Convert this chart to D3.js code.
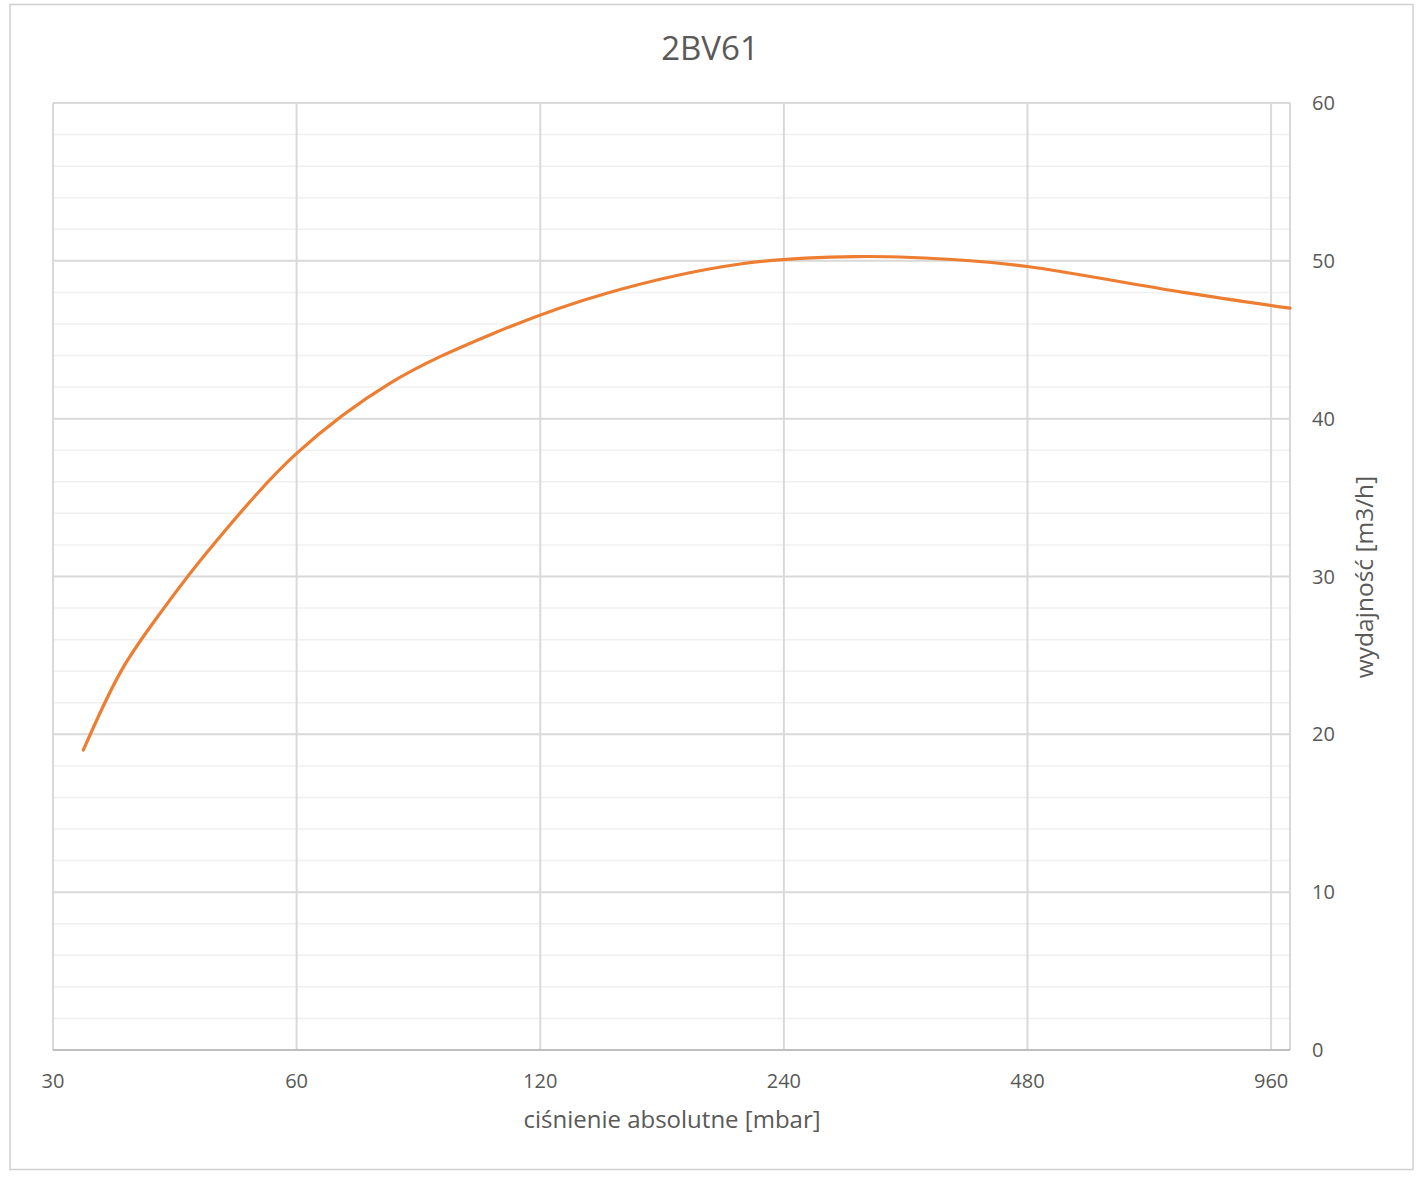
<!DOCTYPE html>
<html><head><meta charset="utf-8">
<script src="https://cdn.jsdelivr.net/npm/d3@7"></script>
<style>body{margin:0;background:#fff;font-family:"Open Sans",sans-serif;}</style>
</head><body>
<svg id="c" width="1421" height="1177"></svg>
<script>
const pressure = [32.7, 36.5, 41, 47.3, 60, 78.3, 105, 145, 212, 295, 404, 480, 748, 1013];
const capacity = [19.0, 24.1, 27.9, 32.0, 37.8, 42.25, 45.4, 47.95, 49.8, 50.27, 50.02, 49.64, 48.0, 47.0];
const xTicks = [30, 60, 120, 240, 480, 960];
const yTicks = [0, 10, 20, 30, 40, 50, 60];
const yMinor = d3.range(0, 61, 2);
const title = "2BV61";
const xTitle = "ciśnienie absolutne [mbar]";
const yTitle = "wydajność [m3/h]";

const svg = d3.select("#c");
const L = 53, R = 1290, T = 103, B = 1050;
const x = d3.scaleLog().base(2).domain([30, 1013]).range([L, R]);
const y = d3.scaleLinear().domain([0, 60]).range([B, T]);

svg.append("rect").attr("x", 10).attr("y", 4.5).attr("width", 1403).attr("height", 1165)
  .attr("fill", "#fff").attr("stroke", "#d0d0d0").attr("stroke-width", 1.5);

svg.append("g").selectAll("line").data(yMinor.filter(d => d % 10 !== 0)).join("line")
  .attr("x1", L).attr("x2", R).attr("y1", d => y(d)).attr("y2", d => y(d))
  .attr("stroke", "#f0f0f0").attr("stroke-width", 1.5);
svg.append("g").selectAll("line").data(yTicks).join("line")
  .attr("x1", L).attr("x2", R).attr("y1", d => y(d)).attr("y2", d => y(d))
  .attr("stroke", "#d9d9d9").attr("stroke-width", 2);
svg.append("g").selectAll("line").data(xTicks).join("line")
  .attr("x1", d => x(d)).attr("x2", d => x(d)).attr("y1", T).attr("y2", B)
  .attr("stroke", "#d9d9d9").attr("stroke-width", 2);
svg.append("line").attr("x1", R).attr("x2", R).attr("y1", T).attr("y2", B)
  .attr("stroke", "#d9d9d9").attr("stroke-width", 2);
svg.append("line").attr("x1", L).attr("x2", R).attr("y1", B).attr("y2", B)
  .attr("stroke", "#bfbfbf").attr("stroke-width", 2);

svg.append("g").selectAll("text").data(xTicks).join("text")
  .attr("x", d => x(d)).attr("y", 1088).attr("text-anchor", "middle")
  .attr("font-size", 20).attr("fill", "#595959").text(d => d);
svg.append("g").selectAll("text").data(yTicks).join("text")
  .attr("x", 1312).attr("y", d => y(d) + 7).attr("text-anchor", "start")
  .attr("font-size", 20).attr("fill", "#595959").text(d => d);

const data = pressure.map((p, i) => [p, capacity[i]]);
svg.append("path").datum(data)
  .attr("d", d3.line().x(d => x(d[0])).y(d => y(d[1])).curve(d3.curveCatmullRom.alpha(0.5)))
  .attr("fill", "none").attr("stroke", "#ED7D31").attr("stroke-width", 3.2).attr("stroke-linecap", "round");

svg.append("text").attr("x", 710).attr("y", 60).attr("text-anchor", "middle")
  .attr("font-size", 33).attr("fill", "#595959").text(title);
svg.append("text").attr("x", 672).attr("y", 1128).attr("text-anchor", "middle")
  .attr("font-size", 24).attr("fill", "#595959").text(xTitle);
svg.append("text").attr("transform", "translate(1373,577) rotate(-90)").attr("text-anchor", "middle")
  .attr("font-size", 24.5).attr("fill", "#595959").text(yTitle);
</script>
</body></html>
